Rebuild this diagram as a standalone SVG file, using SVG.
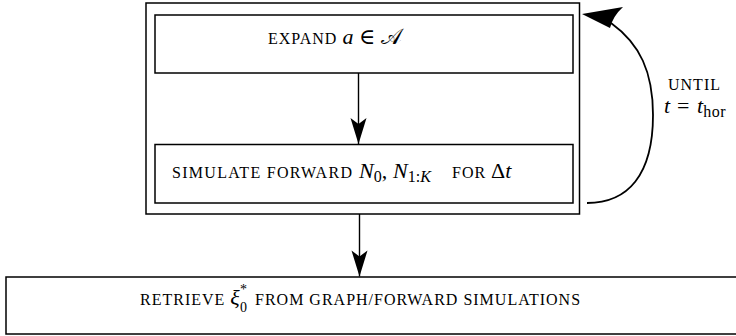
<svg xmlns="http://www.w3.org/2000/svg" width="736" height="336" viewBox="0 0 736 336">
<style>
  .box { fill: #fff; stroke: #000; stroke-width: 1.5; }
  .edge { fill: none; stroke: #000; stroke-width: 1.4; }
  .sc { font-family: "Liberation Serif", "DejaVu Serif", serif; font-size: 16px; letter-spacing: 1px; fill: #000; }
  .m { font-size: 22px; letter-spacing: 0; }
  .i { font-style: italic; }
  .sub { font-size: 16px; letter-spacing: 0; }
</style>
<defs>
  <marker id="ah" viewBox="-27 -9 28 18" markerWidth="28" markerHeight="18" refX="0" refY="0" orient="auto" markerUnits="userSpaceOnUse">
    <path d="M0,0 L-26,-8 L-20,0 L-26,8 Z" fill="#000"/>
  </marker>
</defs>
<rect width="736" height="336" fill="#fff"/>

<g id="loop">
  <rect class="box" x="146" y="3" width="433.5" height="211"/>
</g>
<g id="expand">
  <rect class="box" x="155" y="15" width="418" height="58"/>
  <text class="sc" x="268" y="44">EXPAND <tspan class="m i">a</tspan><tspan class="m"> ∈ </tspan><tspan class="m" font-family="'DejaVu Serif', serif">𝒜</tspan></text>
</g>
<g id="simulate">
  <rect class="box" x="155" y="144.5" width="418" height="58.5"/>
  <text class="sc" x="172" y="178" style="letter-spacing:1.3px">SIMULATE FORWARD</text>
  <text class="sc" y="178"><tspan class="m i" x="359">N</tspan><tspan class="sub" dy="4">0</tspan><tspan class="m" dy="-4">,</tspan><tspan class="m i" x="393">N</tspan><tspan class="sub" dy="4">1:</tspan><tspan class="sub i">K</tspan><tspan dy="-4" x="452">FOR</tspan><tspan class="m" x="491">Δ</tspan><tspan class="m i">t</tspan></text>
</g>
<g id="retrieve">
  <rect class="box" x="6" y="277" width="740" height="57"/>
  <text class="sc" x="140" y="305">RETRIEVE <tspan class="m i">ξ</tspan></text>
  <text class="sc" x="240" y="294" style="font-size:14px;letter-spacing:0">*</text>
  <text class="sc" x="240" y="312" style="font-size:14px;letter-spacing:0">0</text>
  <text class="sc" x="255" y="305">FROM GRAPH/FORWARD SIMULATIONS</text>
</g>
<g id="label">
  <text class="sc" x="668" y="90">UNTIL</text>
  <text class="sc" y="113"><tspan class="m i" x="664">t</tspan><tspan class="m" x="677">=</tspan><tspan class="m i" x="697">t</tspan><tspan class="sub" dy="4" style="letter-spacing:0.5px">hor</tspan></text>
</g>
<g id="connectors">
  <path class="edge" d="M358.5,73 L358.5,144" marker-end="url(#ah)"/>
  <path class="edge" d="M359.5,214 L359.5,276.5" marker-end="url(#ah)"/>
  <path class="edge" style="stroke-width:1.8" d="M587,203 C628,203 653,175 653,115 C653,72 640,44 611,23"/>
  <path d="M582,14 L623,7 Q613,16 610,28 Z" fill="#000"/>
</g>
</svg>
